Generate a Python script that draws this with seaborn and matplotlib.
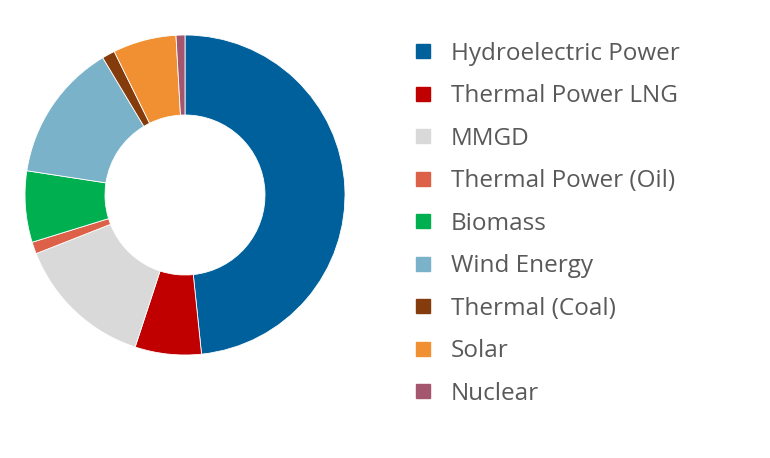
import matplotlib
matplotlib.use("Agg")
import matplotlib.pyplot as plt
from matplotlib.lines import Line2D
import seaborn as sns

# share of generation by source (%)
sources = ['Hydroelectric Power', 'Thermal Power LNG', 'MMGD', 'Thermal Power (Oil)',
           'Biomass', 'Wind Energy', 'Thermal (Coal)', 'Solar', 'Nuclear']
shares = [48.4, 6.7, 14.0, 1.2, 7.2, 14.0, 1.3, 6.4, 0.9]
colors = ['#00609C', '#C00000', '#D9D9D9', '#DD6048', '#00B050',
          '#7AB2C9', '#843C0C', '#F09032', '#A5566F']

sns.set_theme(style='white')
plt.rcParams['font.family'] = ['Open Sans', 'DejaVu Sans']

fig = plt.figure(figsize=(7.7, 4.58), dpi=100)
ax = fig.add_axes([25 / 770, (458 - 195 - 160) / 458, 320 / 770, 320 / 458])

ax.pie(shares, colors=colors, startangle=90, counterclock=False, radius=1,
       wedgeprops=dict(width=0.5, edgecolor='white', linewidth=0.6))
ax.set_xlim(-1, 1)
ax.set_ylim(-1, 1)
ax.set_aspect('equal')
ax.axis('off')

handles = [Line2D([0], [0], marker='s', linestyle='none', markersize=10,
                  markerfacecolor=c, markeredgecolor=c) for c in colors]
fig.legend(handles, sources, loc='upper left', bbox_to_anchor=(412 / 770, 1 - 42 / 458),
           frameon=False, fontsize=17.5, labelcolor='#595959', handlelength=0.9,
           handletextpad=0.7, labelspacing=0.76, borderpad=0, borderaxespad=0)

fig.savefig('out.png', dpi=100, facecolor='white')
